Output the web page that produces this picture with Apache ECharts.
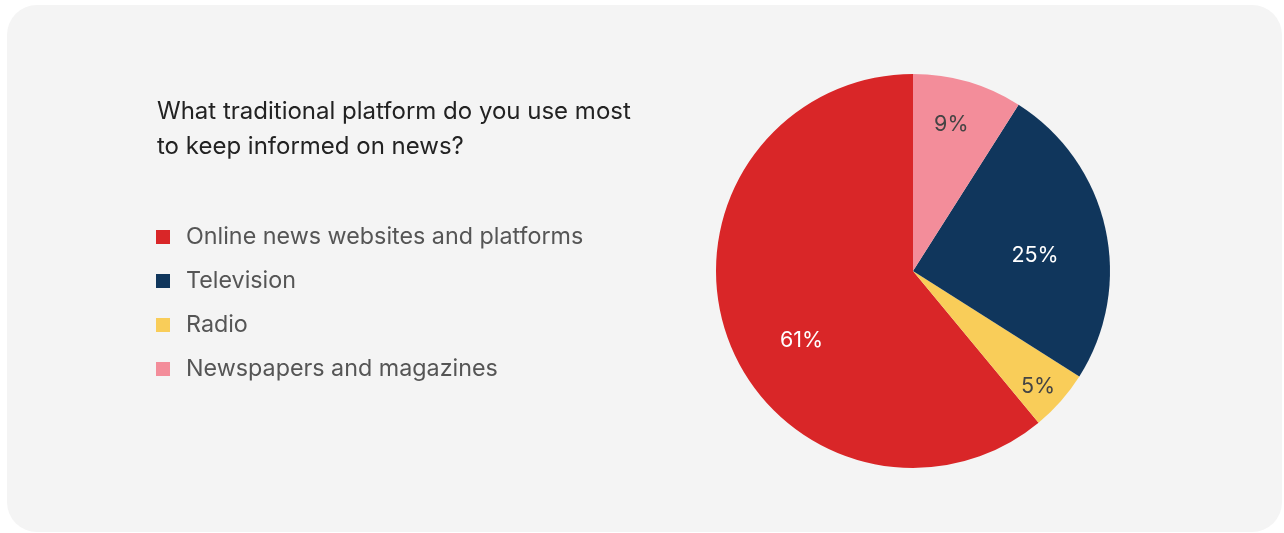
<!DOCTYPE html>
<html>
<head>
<meta charset="utf-8">
<script src="https://cdn.jsdelivr.net/npm/echarts@6/dist/echarts.min.js"></script>
<style>
  html, body { margin: 0; padding: 0; background: #ffffff; }
  #chart { width: 1284px; height: 533px; }
</style>
</head>
<body>
<div id="chart"></div>
<script>
// Survey: most used traditional platform for keeping informed on news
const question = 'What traditional platform do you use most\nto keep informed on news?';
// legend order
const categories = ['Online news websites and platforms', 'Television', 'Radio', 'Newspapers and magazines'];
const shares = [61, 25, 5, 9];
// order in which the slices run round the pie (indices into categories)
const sliceOrder = [0, 2, 1, 3];

const sliceColors = ['#d92628', '#10365c', '#f9cd59', '#f38d9a'];
const labelColors = ['#ffffff', '#ffffff', '#444444', '#444444'];
// nudges for the percentage labels, away from the default mid-radius spot
const labelNudge = [[-16, 35], [23, 7], [49, 48], [10, -49]];

const chart = echarts.init(document.getElementById('chart'), null, { renderer: 'canvas' });

const pieData = sliceOrder.map(function (i) {
  return {
    name: categories[i],
    value: shares[i],
    itemStyle: { color: sliceColors[i] },
    label: { color: labelColors[i] }
  };
});

chart.setOption({
  backgroundColor: '#ffffff',
  animation: false,
  graphic: [{
    type: 'rect',
    z: -10,
    shape: { x: 7, y: 5, width: 1275, height: 527, r: 30 },
    style: { fill: '#f4f4f4' }
  }],
  title: {
    text: question,
    left: 157,
    top: 95,
    padding: 0,
    textStyle: {
      fontFamily: 'Inter',
      fontSize: 24,
      fontWeight: 400,
      color: '#222222',
      lineHeight: 34.5
    }
  },
  legend: {
    orient: 'vertical',
    left: 156,
    top: 225,
    padding: 0,
    icon: 'rect',
    itemWidth: 14,
    itemHeight: 14,
    itemGap: 20,
    selectedMode: false,
    data: categories,
    textStyle: {
      fontFamily: 'Inter',
      fontSize: 23.3,
      color: '#555555',
      lineHeight: 24,
      padding: [0, 0, 0, 11]
    }
  },
  series: [{
    type: 'pie',
    center: [913, 271],
    radius: [0, 197],
    startAngle: 90,
    clockwise: false,
    silent: true,
    labelLine: { show: false },
    label: {
      show: true,
      position: 'inside',
      fontFamily: 'Inter',
      fontSize: 21.5,
      formatter: '{c}%'
    },
    labelLayout: function (p) {
      const n = labelNudge[sliceOrder[p.dataIndex]];
      return { dx: n[0], dy: n[1] };
    },
    data: pieData
  }]
});
</script>
</body>
</html>
